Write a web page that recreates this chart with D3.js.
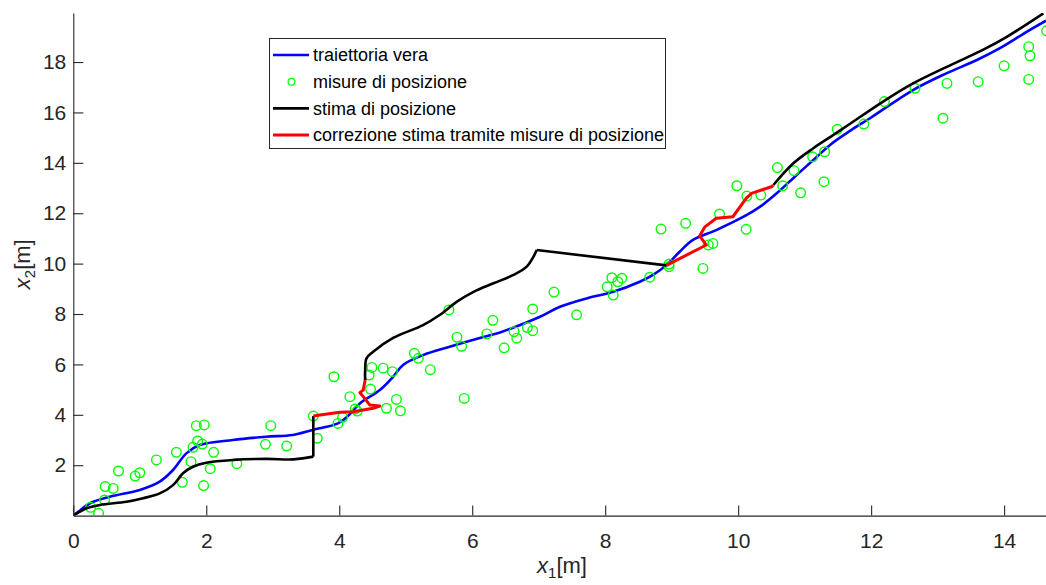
<!DOCTYPE html>
<html>
<head>
<meta charset="utf-8">
<script src="https://cdn.jsdelivr.net/npm/d3@7"></script>
<style>
  body { margin: 0; background: #fff; }
  svg { display: block; font-family: "Liberation Sans", Arial, sans-serif; }
</style>
</head>
<body>
<svg width="1046" height="585"></svg>
<script>
const xTicks = [0, 2, 4, 6, 8, 10, 12, 14];
const yTicks = [2, 4, 6, 8, 10, 12, 14, 16, 18];

const trueTrack = [
  [0, 0], [0.1, 0.2], [0.25, 0.49], [0.55, 0.75], [1.0, 1.02], [1.3, 1.35],
  [1.5, 1.81], [1.7, 2.47], [1.9, 2.8], [2.4, 3.0], [2.9, 3.13], [3.3, 3.2],
  [3.6, 3.4], [3.98, 3.66], [4.13, 3.95], [4.31, 4.45], [4.61, 4.98], [4.81, 5.51],
  [4.96, 5.98], [5.26, 6.37], [5.66, 6.7], [6.1, 7.04], [6.45, 7.3], [7.02, 7.89],
  [7.32, 8.29], [7.72, 8.62], [8.12, 8.88], [8.52, 9.28], [8.72, 9.55], [8.92, 9.94],
  [9.12, 10.47], [9.32, 10.94], [9.67, 11.33], [10.13, 11.93], [10.33, 12.26],
  [10.58, 12.79], [10.88, 13.52], [11.13, 14.11], [11.4, 14.75], [11.7, 15.3],
  [12.0, 15.8], [12.63, 16.89], [13.13, 17.55], [13.59, 18.08], [13.93, 18.54],
  [14.34, 19.2], [14.63, 19.64]
];

const measures = [
  [0.26, 0.33], [0.38, 0.09], [0.47, 0.62], [0.48, 1.15], [0.6, 1.08], [0.68, 1.77],
  [0.93, 1.57], [1.0, 1.7], [1.25, 2.21], [1.55, 2.51], [1.64, 1.32], [1.77, 2.14],
  [1.8, 2.71], [1.85, 3.57], [1.97, 3.6], [1.87, 2.96], [1.94, 2.84], [1.96, 1.19],
  [2.06, 1.86], [2.11, 2.51], [2.46, 2.06], [2.89, 2.83], [2.97, 3.57], [3.21, 2.76],
  [3.61, 3.95], [3.67, 3.07], [3.92, 5.51], [3.98, 3.66], [4.05, 3.9], [4.16, 4.72],
  [4.24, 4.23], [4.27, 4.15], [4.49, 5.88], [4.45, 5.58], [4.47, 5.02], [4.66, 5.85],
  [4.8, 5.71], [4.71, 4.26], [4.86, 4.61], [4.92, 4.16], [5.13, 6.44], [5.19, 6.24],
  [5.37, 5.79], [5.65, 8.16], [5.77, 7.08], [5.84, 6.72], [5.88, 4.65], [6.22, 7.21],
  [6.31, 7.75], [6.48, 6.66], [6.63, 7.3], [6.67, 7.04], [6.83, 7.46], [6.91, 7.34],
  [6.91, 8.2], [7.23, 8.87], [7.57, 7.97], [8.03, 9.08], [8.1, 9.44], [8.12, 8.75],
  [8.19, 9.28], [8.25, 9.42], [8.67, 9.46], [8.84, 11.37], [8.96, 9.98], [8.96, 9.88],
  [9.21, 11.6], [9.47, 9.81], [9.55, 10.74], [9.62, 10.8], [9.72, 11.97], [9.98, 13.09],
  [10.12, 11.36], [10.13, 12.68], [10.34, 12.72], [10.59, 13.81], [10.67, 13.09],
  [10.84, 13.69], [10.94, 12.81], [11.12, 14.24], [11.29, 13.25], [11.3, 14.44],
  [11.49, 15.33], [11.89, 15.54], [12.2, 16.43], [12.66, 16.96], [13.08, 15.77],
  [13.14, 17.15], [13.61, 17.22], [14.0, 17.85], [14.37, 17.31], [14.37, 18.61],
  [14.39, 18.25], [14.64, 19.24]
];

const estimateSegments = [
  [[0, 0], [0.2, 0.29], [0.4, 0.42], [0.8, 0.55], [1.05, 0.69], [1.3, 0.88], [1.5, 1.21],
   [1.65, 1.68], [1.8, 1.94], [2.0, 2.1], [2.41, 2.21], [2.91, 2.25], [3.31, 2.23], [3.61, 2.34]],
  [[3.61, 2.34], [3.61, 3.95]],
  [[4.39, 5.38], [4.39, 5.78], [4.41, 6.24], [4.51, 6.5], [4.81, 7.05], [5.26, 7.56],
   [5.51, 7.96], [5.77, 8.49], [6.02, 8.88], [6.32, 9.22], [6.62, 9.55], [6.82, 9.88],
   [6.92, 10.27], [6.97, 10.54]],
  [[6.97, 10.54], [8.92, 9.93]],
  [[10.53, 13.12], [10.83, 13.98], [11.13, 14.58], [11.4, 15.05], [11.7, 15.58],
   [12.18, 16.43], [12.63, 17.15], [13.13, 17.8], [13.68, 18.48], [14.04, 19.0], [14.59, 19.93]]
];

const correctionSegments = [
  [[3.61, 3.95], [3.71, 3.99], [4.01, 4.1], [4.21, 4.12], [4.51, 4.26], [4.61, 4.35],
   [4.46, 4.39], [4.34, 4.79], [4.31, 4.88], [4.36, 4.98], [4.39, 5.38]],
  [[8.92, 9.93], [9.52, 10.74], [9.42, 11.1], [9.5, 11.46], [9.67, 11.8], [9.92, 11.86],
   [10.12, 12.59], [10.2, 12.79], [10.5, 13.05], [10.53, 13.12]]
];

const legendLabels = [
  'traiettoria vera',
  'misure di posizione',
  'stima di posizione',
  'correzione stima tramite misure di posizione'
];

const axisColor = '#262626';
const svg = d3.select('svg');

const x = d3.scaleLinear().domain([0, 14.63]).range([73.3, 1046]);
const y = d3.scaleLinear().domain([0, 19.95]).range([515.6, 12.9]);

svg.append('clipPath').attr('id', 'plot')
  .append('rect')
  .attr('x', x(0)).attr('y', y(19.95))
  .attr('width', x(14.63) - x(0)).attr('height', y(0) - y(19.95));

const smooth = d3.line().x(d => x(d[0])).y(d => y(d[1])).curve(d3.curveCatmullRom.alpha(0.5));
const straight = d3.line().x(d => x(d[0])).y(d => y(d[1]));

const plot = svg.append('g').attr('clip-path', 'url(#plot)');

plot.append('path')
  .attr('d', smooth(trueTrack))
  .attr('fill', 'none').attr('stroke', '#0000ff').attr('stroke-width', 2.6);

plot.selectAll('circle.m')
  .data(measures)
  .enter()
  .append('circle')
  .attr('class', 'm')
  .attr('cx', d => x(d[0]))
  .attr('cy', d => y(d[1]))
  .attr('r', 4.8)
  .attr('fill', 'none')
  .attr('stroke', '#00ff00')
  .attr('stroke-width', 1.4);

plot.selectAll('path.est')
  .data(estimateSegments)
  .enter()
  .append('path')
  .attr('class', 'est')
  .attr('d', d => (d.length > 2 ? smooth(d) : straight(d)))
  .attr('fill', 'none').attr('stroke', '#000').attr('stroke-width', 2.6)
  .attr('stroke-linejoin', 'round');

plot.selectAll('path.corr')
  .data(correctionSegments)
  .enter()
  .append('path')
  .attr('class', 'corr')
  .attr('d', d => straight(d))
  .attr('fill', 'none').attr('stroke', '#ff0000').attr('stroke-width', 3)
  .attr('stroke-linejoin', 'round');

// axes, MATLAB style: ticks pointing inward
const xAxis = d3.axisBottom(x).tickValues(xTicks).tickSizeInner(-10).tickSizeOuter(0).tickPadding(17);
const yAxis = d3.axisLeft(y).tickValues(yTicks).tickSizeInner(-10).tickSizeOuter(0).tickPadding(7);

const gx = svg.append('g').attr('transform', `translate(0,${y(0)})`).call(xAxis);
const gy = svg.append('g').attr('transform', `translate(${x(0)},0)`).call(yAxis);

[gx, gy].forEach(g => {
  g.selectAll('path, line').attr('stroke', axisColor).attr('stroke-width', 1.1);
  g.selectAll('text').attr('fill', axisColor).style('font-size', '21px')
    .style('font-family', '"Liberation Sans", Arial, sans-serif');
});

const xl = svg.append('text')
  .attr('x', 562).attr('y', 573)
  .attr('text-anchor', 'middle')
  .attr('fill', axisColor)
  .style('font-size', '22px');
xl.append('tspan').text('x').style('font-style', 'italic');
xl.append('tspan').text('1').attr('dy', 5).style('font-size', '15px');
xl.append('tspan').text('[m]').attr('dy', -5);

const yl = svg.append('text')
  .attr('transform', `translate(30,${(y(0) + y(19.95)) / 2}) rotate(-90)`)
  .attr('text-anchor', 'middle')
  .attr('fill', axisColor)
  .style('font-size', '22px');
yl.append('tspan').text('x').style('font-style', 'italic');
yl.append('tspan').text('2').attr('dy', 5).style('font-size', '15px');
yl.append('tspan').text('[m]').attr('dy', -5);

// legend
const legend = svg.append('g');
legend.append('rect')
  .attr('x', 269.5).attr('y', 38.5).attr('width', 396).attr('height', 110)
  .attr('fill', '#fff').attr('stroke', axisColor).attr('stroke-width', 1);

const rowY = i => 55 + i * 26.7;
const legendStyles = [
  { type: 'line', color: '#0000ff', width: 2.6 },
  { type: 'circle', color: '#00ff00' },
  { type: 'line', color: '#000', width: 2.6 },
  { type: 'line', color: '#ff0000', width: 3 }
];

legendLabels.forEach((label, i) => {
  const s = legendStyles[i];
  if (s.type === 'line') {
    legend.append('line')
      .attr('x1', 273).attr('x2', 309).attr('y1', rowY(i)).attr('y2', rowY(i))
      .attr('stroke', s.color).attr('stroke-width', s.width);
  } else {
    legend.append('circle')
      .attr('cx', 291.5).attr('cy', rowY(i)).attr('r', 3.4)
      .attr('fill', 'none').attr('stroke', s.color).attr('stroke-width', 1.2);
  }
  legend.append('text')
    .attr('x', 313).attr('y', rowY(i)).attr('dy', '0.35em')
    .attr('fill', '#000')
    .style('font-size', '18px')
    .text(label);
});
</script>
</body>
</html>
